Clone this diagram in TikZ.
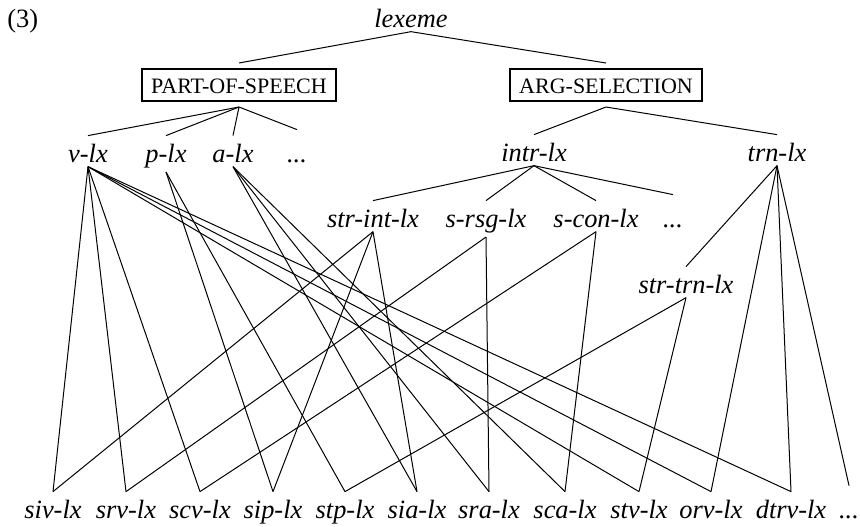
\documentclass[tikz,border=0pt]{standalone}
\usepackage{fontspec}
\setmainfont{Liberation Serif}
\begin{document}
\begin{tikzpicture}[x=0.5pt,y=-0.5pt,
  lab/.style={font=\fontsize{13.2}{16}\selectfont\itshape, inner xsep=1pt,
    inner ysep=2pt, text height=11pt, anchor=base},
  dotlab/.style={lab, text height=14pt},
  cat/.style={draw, line width=1.1pt, font=\fontsize{11}{13}\selectfont,
    inner xsep=4.5pt, inner ysep=4pt, text height=8pt, text depth=0pt,
    outer sep=3pt, anchor=base},
  edge/.style={line width=0.5pt}]
\useasboundingbox (0,0) rectangle (860,526);

% example number and root
\node[anchor=base west, font=\fontsize{13.2}{16}\selectfont, inner sep=0pt] (num) at (7,27) {(3)};
\node[lab] (lexeme) at (411,27) {lexeme};

% the two dimensions
\node[cat] (pos) at (239,93) {PART-OF-SPEECH};
\node[cat] (arg) at (606,93) {ARG-SELECTION};

% part-of-speech types
\node[lab] (vlx) at (88,162) {v-lx};
\node[lab] (plx) at (166,162) {p-lx};
\node[lab] (alx) at (233,162) {a-lx};
\node[dotlab] (dotsA) at (297,162) {...};

% argument-selection types
\node[lab] (intr) at (534,161) {intr-lx};
\node[lab] (trn) at (777,161) {trn-lx};
\node[lab] (strint) at (373,227) {str-int-lx};
\node[lab] (srsg) at (486,227) {s-rsg-lx};
\node[lab] (scon) at (596,227) {s-con-lx};
\node[dotlab] (dotsB) at (673,227) {...};
\node[lab] (strtrn) at (686,293) {str-trn-lx};

% maximal lexical types
\node[lab] (siv) at (53,518) {siv-lx};
\node[lab] (srv) at (126,518) {srv-lx};
\node[lab] (scv) at (200,518) {scv-lx};
\node[lab] (sip) at (273,518) {sip-lx};
\node[lab] (stp) at (345,518) {stp-lx};
\node[lab] (sia) at (417,518) {sia-lx};
\node[lab] (sra) at (489,518) {sra-lx};
\node[lab] (sca) at (565,518) {sca-lx};
\node[lab] (stv) at (639,518) {stv-lx};
\node[lab] (orv) at (711,518) {orv-lx};
\node[lab] (dtrv) at (791,518) {dtrv-lx};
\node[dotlab] (dotsC) at (849,518) {...};

% upper hierarchy
\foreach \a/\b in {lexeme/pos, lexeme/arg,
    pos/vlx, pos/plx, pos/alx, pos/dotsA,
    arg/intr, arg/trn,
    intr/strint, intr/srsg, intr/scon, intr/dotsB,
    trn/strtrn, trn/orv, trn/dtrv, trn/dotsC}
  \draw[edge] (\a.south) -- (\b.north);

% multiple inheritance into the maximal types
\foreach \a/\b in {vlx/siv, vlx/srv, vlx/scv, vlx/stv, vlx/orv, vlx/dtrv,
    plx/sip, plx/stp,
    alx/sia, alx/sra, alx/sca,
    strint/siv, strint/sip, strint/sia,
    srsg/srv, srsg/sra,
    scon/scv, scon/sca,
    strtrn/stp, strtrn/stv}
  \draw[edge] (\a.south) -- (\b.north);
\end{tikzpicture}
\end{document}
